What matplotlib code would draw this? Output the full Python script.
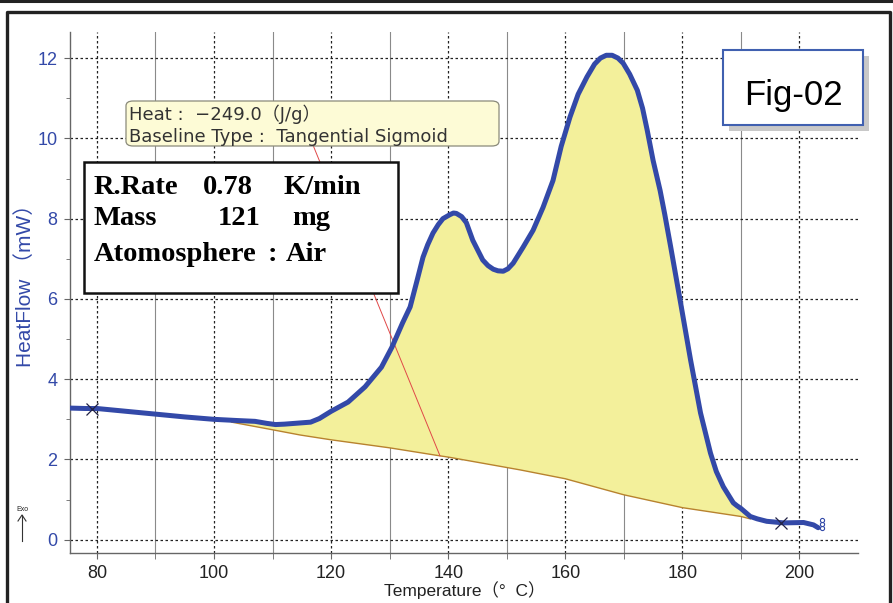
import matplotlib
matplotlib.use("Agg")
import numpy as np
from matplotlib import pyplot as plt
from matplotlib.patches import Rectangle, FancyBboxPatch
from matplotlib.lines import Line2D

# DSC trace (temperature in deg C, heat flow in mW)
temp = [75.5, 78, 80, 85, 90, 95, 100, 104, 107, 109, 110.5, 112, 114.7, 116.5,
        118, 120, 122.9, 125.8, 128.6, 130.4, 131.3, 132.2, 133.5, 134.7, 135.7,
        136.5, 137.4, 138.3, 139.1, 140.3, 140.9, 141.4, 142.3, 143.1, 144.2,
        145.9, 146.8, 147.7, 148.5, 149.4, 150.2, 151.1, 152.8, 154.5, 156.2,
        157.9, 159.3, 160.8, 162.2, 163.7, 165, 166, 167, 168, 169, 169.9, 171,
        172.3, 173.2, 174, 175, 176.2, 177, 178, 179.7, 181.4, 183.1, 184.8,
        185.8, 187, 188.7, 189.3, 190, 191.6, 192.8, 194.4, 197.3, 200.7, 202.4,
        203.2]
heat = [3.28, 3.27, 3.27, 3.2, 3.13, 3.06, 3.0, 2.97, 2.95, 2.9, 2.87, 2.88, 2.91,
        2.93, 3.02, 3.2, 3.43, 3.81, 4.3, 4.8, 5.1, 5.4, 5.8, 6.47, 7.04,
        7.35, 7.64, 7.85, 8.0, 8.1, 8.14, 8.13, 8.05, 7.9, 7.46,
        6.97, 6.83, 6.74, 6.7, 6.69, 6.75, 6.89, 7.29, 7.71, 8.28,
        8.95, 9.8, 10.53, 11.1, 11.53, 11.85, 12.0, 12.07, 12.07, 12.0, 11.87, 11.6,
        11.2, 10.75, 10.2, 9.45, 8.7, 8.1, 7.3, 5.9, 4.48, 3.16, 2.16,
        1.7, 1.32, 0.92, 0.85, 0.78, 0.58, 0.52, 0.46, 0.42, 0.43, 0.37,
        0.3]

# tangential sigmoid baseline
base_temp = [103, 110, 114.7, 120, 130, 138.6, 140, 150, 152.3, 160, 170, 180, 190, 191.6]
base_heat = [2.93, 2.74, 2.61, 2.49, 2.29, 2.09, 2.06, 1.8, 1.74, 1.52, 1.12, 0.8, 0.58, 0.52]

# partition line between the two peaks
split_temp = [117, 138.6]
split_heat = [9.8, 2.09]

# analysis limit markers and end-of-run points
limit_temp = [79.2, 196.9]
limit_heat = [3.27, 0.42]
end_temp = [203.8, 203.8, 203.8]
end_heat = [0.3, 0.4, 0.5]

W, H = 893, 603
BLUE = "#3349a8"
LATIN_CJK = ["Liberation Sans", "Noto Sans CJK JP"]


def px(x, y):
    return x / W, 1 - y / H


fig = plt.figure(figsize=(W / 100, H / 100), dpi=100)
ax = fig.add_axes([70 / W, 1 - 553 / H, (858 - 70) / W, (553 - 32) / H])

ax.set_xlim(75.4, 210)
ax.set_ylim(-0.33, 12.65)

# grid
ax.set_xticks(np.arange(80, 201, 20))
ax.set_xticks(np.arange(90, 201, 20), minor=True)
ax.set_yticks(np.arange(0, 13, 2))
ax.set_yticks(np.arange(1, 13, 2), minor=True)
ax.grid(which="major", axis="both", color="#222222", linestyle=(0, (2, 2)), linewidth=0.9)
ax.grid(which="minor", axis="x", color="#8a8a8a", linestyle="-", linewidth=0.8)
ax.set_axisbelow(True)

for s in ["top", "right"]:
    ax.spines[s].set_visible(False)
for s in ["left", "bottom"]:
    ax.spines[s].set_color("#666666")
    ax.spines[s].set_linewidth(1.0)

ax.tick_params(axis="y", which="major", length=4, color="#666666", labelsize=13,
               labelcolor=BLUE, pad=5)
ax.tick_params(axis="y", which="minor", length=3, color="#666666")
ax.tick_params(axis="x", which="both", length=4, color="#666666", labelsize=13,
               labelcolor="#222222", pad=5)
for lab in ax.get_xticklabels() + ax.get_yticklabels():
    lab.set_family("Liberation Sans")

# peak area between curve and baseline
t = np.array(temp)
h = np.array(heat)
inside = (t > base_temp[0]) & (t < base_temp[-1])
poly_x = np.concatenate([[base_temp[0]], t[inside], [base_temp[-1]], base_temp[::-1]])
poly_y = np.concatenate([[base_heat[0]], h[inside], [base_heat[-1]], base_heat[::-1]])
ax.fill(poly_x, poly_y, color="#f3f09b", linewidth=0, zorder=2)
ax.plot(base_temp, base_heat, color="#b8822e", linewidth=1.0, zorder=3)
ax.plot(split_temp, split_heat, color="#e04848", linewidth=0.7, zorder=3)

ax.plot(temp, heat, color=BLUE, linewidth=3.6, solid_joinstyle="round",
        solid_capstyle="round", zorder=4)
ax.plot(limit_temp, limit_heat, linestyle="None", marker="x", markersize=9,
        markeredgewidth=0.9, color="#222244", zorder=5)
ax.plot(end_temp, end_heat, linestyle="None", marker="o", markersize=3,
        markerfacecolor="white", markeredgecolor=BLUE, markeredgewidth=0.8, zorder=5)

fig.text(*px(465, 596), "Temperature（°  C）", ha="center", va="baseline",
         family=LATIN_CJK, fontsize=12.5, color="#222222")
fig.text(*px(25, 280.5), "HeatFlow （mW）", rotation=90, ha="center", va="center",
         fontsize=15, color=BLUE, family=LATIN_CJK)

# Exo marker
fig.text(*px(22, 511), "Exo", fontsize=5, ha="center", va="baseline",
         family="Liberation Sans", color="#222222")
fig.add_artist(Line2D([22 / W, 22 / W], [1 - 541 / H, 1 - 515 / H],
                      color="#333333", linewidth=0.8))
fig.add_artist(Line2D([18 / W, 22 / W, 26 / W], [1 - 521 / H, 1 - 515 / H, 1 - 521 / H],
                      color="#333333", linewidth=0.8))

# heat annotation
x0, y0 = px(126, 146)
x1, y1 = px(499, 101)
fig.add_artist(FancyBboxPatch((x0, y0), x1 - x0, y1 - y0,
                              boxstyle="round,pad=0,rounding_size=0.008",
                              transform=fig.transFigure, facecolor="#fdfbd6",
                              edgecolor="#8a8a7a", linewidth=0.9, zorder=6))
note = dict(fontsize=13, color="#333333", family=["DejaVu Sans", "Noto Sans CJK JP"],
            va="baseline", zorder=7)
fig.text(*px(129, 120), "Heat :  −249.0（J/g）", **note)
fig.text(*px(129, 141.5), "Baseline Type :  Tangential Sigmoid", **note)

# measurement conditions box
x0, y0 = px(84, 293)
x1, y1 = px(398, 162)
fig.add_artist(Rectangle((x0, y0), x1 - x0, y1 - y0, transform=fig.transFigure,
                         facecolor="white", edgecolor="#111111", linewidth=1.8, zorder=6))
cond = dict(fontsize=20.5, fontweight="bold", family="Liberation Serif",
            color="black", va="baseline", zorder=7)
fig.text(*px(94, 194), "R.Rate", **cond)
fig.text(*px(203, 194), "0.78", **cond)
fig.text(*px(283, 194), "K/min", **cond)
fig.text(*px(94, 225), "Mass", **cond)
fig.text(*px(218, 225), "121", **cond)
fig.text(*px(292, 225), "mg", **cond)
fig.text(*px(94, 261), "Atomosphere", **cond)
fig.text(*px(268, 261), ":", **cond)
fig.text(*px(286, 261), "Air", **cond)

# figure label
x0, y0 = px(723, 125)
x1, y1 = px(863, 50)
sx, sy = 6 / W, -6 / H
fig.add_artist(Rectangle((x0 + sx, y0 + sy), x1 - x0, y1 - y0, transform=fig.transFigure,
                         facecolor="#c8c8c8", edgecolor="none", zorder=6))
fig.add_artist(Rectangle((x0, y0), x1 - x0, y1 - y0, transform=fig.transFigure,
                         facecolor="white", edgecolor="#4060b0", linewidth=1.5, zorder=7))
fig.text(*px(793, 105), "Fig-02", fontsize=25, family="Liberation Sans", ha="center",
         va="baseline", color="black", zorder=8)

# outer frame
fig.add_artist(Line2D([0, 1], [1 - 1 / H, 1 - 1 / H], color="#222222", linewidth=2.2))
fig.add_artist(Line2D([6.5 / W, 6.5 / W, 889.5 / W, 889.5 / W],
                      [0, 1 - 11.5 / H, 1 - 11.5 / H, 0], color="#222222", linewidth=2.4))

fig.savefig("out.png", dpi=100)
